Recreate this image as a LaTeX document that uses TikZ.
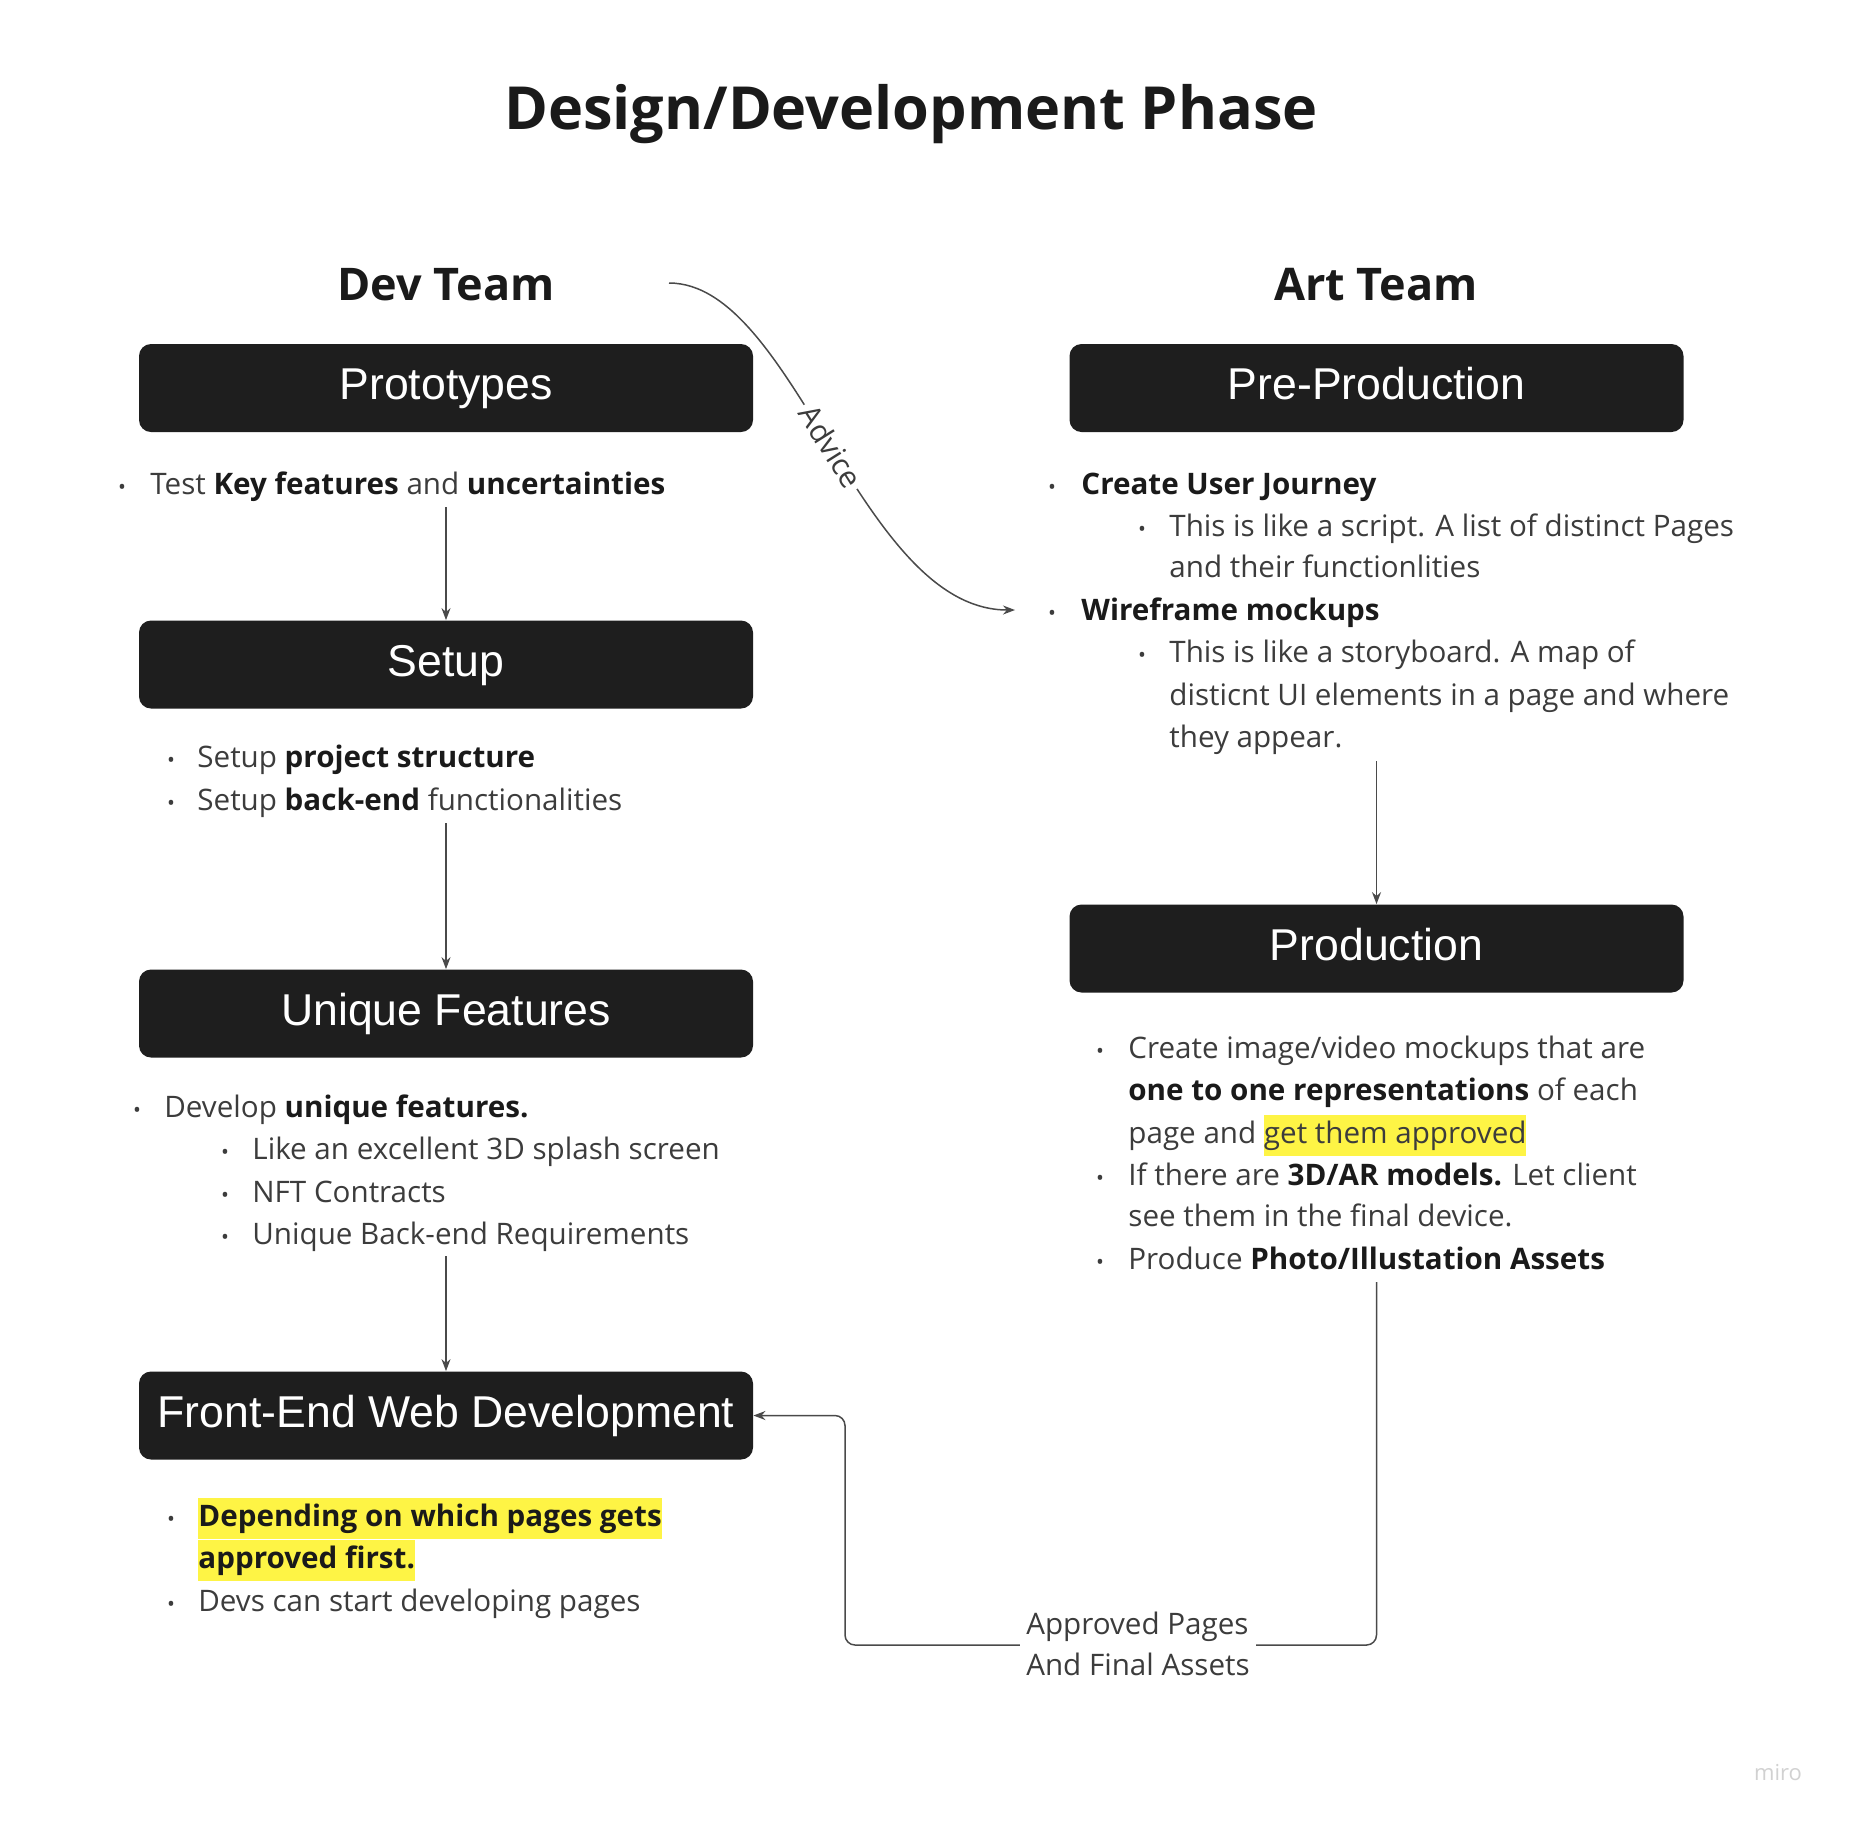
\documentclass[tikz,border=0pt]{standalone}
\usepackage{fontspec}
\setmainfont{Open Sans}
\newfontfamily\boxfont{Liberation Sans}
\usetikzlibrary{arrows.meta}
\definecolor{boxfill}{HTML}{1E1E1E}
\definecolor{bodytext}{HTML}{3C3C3C}
\definecolor{boldtext}{HTML}{1A1A1A}
\definecolor{hlyellow}{HTML}{FEF445}
\definecolor{lineclr}{HTML}{4A4A4A}
\newcommand\bt[1]{\textcolor{boldtext}{\textbf{#1}}}
\newcommand\hlt[1]{{\setlength\fboxsep{0pt}\colorbox{hlyellow}{\strut #1}}}
\begin{document}
\begin{tikzpicture}[x=0.5pt,y=-0.5pt,
 phase/.style={rectangle, rounded corners=6pt, fill=boxfill, minimum width=307pt, minimum height=44pt, text=white, font=\boxfont\fontsize{22.3}{26}\selectfont, inner sep=0pt, text height=16pt, text depth=4.5pt},
 txt/.style={anchor=mid west, inner sep=0pt, font=\fontsize{14.8}{20.5}\selectfont, text=bodytext},
 dot/.style={anchor=mid, inner sep=0pt, font=\fontsize{10.5}{20.5}\selectfont, text=bodytext},
 flow/.style={draw=lineclr, line width=0.75pt, -{Stealth[length=6pt,width=4.5pt]}},
 head/.style={font=\fontsize{22.5}{26}\selectfont\bfseries, text=boldtext, inner sep=0pt},
]
\useasboundingbox (0,0) rectangle (1850,1822);
\fill[white] (0,0) rectangle (1850,1822);

\node[font=\fontsize{29.7}{34}\selectfont\bfseries, text=boldtext, inner sep=0pt] (title) at (911,114) {Design/Development Phase};
\node[head] (dev) at (446,285) {Dev Team};
\node[head] (art) at (1376,285) {Art Team};

\node[phase] (proto) at (446,388) {Prototypes};
\node[phase] (setup) at (446,664.5) {Setup};
\node[phase] (uniq) at (446,1013.5) {Unique Features};
\node[phase] (front) at (446,1415.5) {Front-End Web Development};
\node[phase] (pre) at (1376.5,388) {Pre-Production};
\node[phase] (prod) at (1376.5,948.5) {Production};

% Left column texts
\node[dot] (d1) at (122,489) {•};
\node[txt] (l1) at (150,489) {Test \bt{Key features} and \bt{uncertainties}};
\node[dot] (d2) at (171,762) {•};
\node[txt] (s1) at (197,762) {Setup \bt{project structure}};
\node[dot] (d3) at (171,805) {•};
\node[txt] (s2) at (197,805) {Setup \bt{back-end} functionalities};
\node[dot] (d4) at (137,1112) {•};
\node[txt] (u1) at (164,1112) {Develop \bt{unique features.}};
\node[dot] (d5) at (225,1154) {•};
\node[txt] (u2) at (252,1154) {Like an excellent 3D splash screen};
\node[dot] (d6) at (225,1197) {•};
\node[txt] (u3) at (252,1197) {NFT Contracts};
\node[dot] (d7) at (225,1239) {•};
\node[txt] (u4) at (252,1239) {Unique Back-end Requirements};
\node[dot] (d8) at (171,1521) {•};
\node[txt] (f1) at (198,1521) {\hlt{\bt{Depending on which pages gets}}};
\node[txt] (f2) at (198,1563) {\hlt{\bt{approved first.}}};
\node[dot] (d9) at (171,1606) {•};
\node[txt] (f3) at (198,1606) {Devs can start developing pages};

% Right column texts
\node[dot] (e1) at (1052,489) {•};
\node[txt] (p1) at (1081,489) {\bt{Create User Journey}};
\node[dot] (e2) at (1142,531) {•};
\node[txt] (p2) at (1169,531) {This is like a script. A list of distinct Pages};
\node[txt] (p3) at (1169,572) {and their functionlities};
\node[dot] (e3) at (1052,615) {•};
\node[txt] (p4) at (1081,615) {\bt{Wireframe mockups}};
\node[dot] (e4) at (1142,657) {•};
\node[txt] (p5) at (1169,657) {This is like a storyboard. A map of};
\node[txt] (p6) at (1169,700) {disticnt UI elements in a page and where};
\node[txt] (p7) at (1169,742) {they appear.};

\node[dot] (g1) at (1100,1053) {•};
\node[txt] (r1) at (1128,1053) {Create image/video mockups that are};
\node[txt] (r2) at (1128,1095) {\bt{one to one representations} of each};
\node[txt] (r3) at (1128,1138) {page and \hlt{get them approved}};
\node[dot] (g2) at (1100,1180) {•};
\node[txt] (r4) at (1128,1180) {If there are \bt{3D/AR models.} Let client};
\node[txt] (r5) at (1128,1221) {see them in the final device.};
\node[dot] (g3) at (1100,1264) {•};
\node[txt] (r6) at (1128,1264) {Produce \bt{Photo/Illustation Assets}};

% Connectors
\coordinate (a1) at (446,507);
\coordinate (a2) at (446,823);
\coordinate (a3) at (446,1256);
\coordinate (a4) at (1376.5,761);
\coordinate (a5) at (1376.5,1282);
\coordinate (adv0) at (669,283);
\coordinate (adv1) at (1015,610);

\draw[flow] (a1) -- (setup);
\draw[flow] (a2) -- (uniq);
\draw[flow] (a3) -- (front);
\draw[flow] (a4) -- (prod);
\draw[flow, rounded corners=5pt] (a5) -- (1376.5,1645) -- (845,1645) |- (front.east);
\node[fill=white, inner xsep=3pt, inner ysep=0pt, align=left, font=\fontsize{14.8}{20.5}\selectfont, text=bodytext] (lbl) at (1138,1644) {Approved Pages\\And Final Assets};

\draw[flow] (adv0) .. controls (795,283) and (860,610) .. (adv1)
  node[pos=0.5, sloped, fill=white, inner sep=2pt, font=\fontsize{15}{21}\selectfont, text=bodytext] (advlbl) {Advice};

\node[font=\fontsize{11}{13}\selectfont, text=black!18, inner sep=0pt] (miro) at (1778,1772) {miro};
\end{tikzpicture}
\end{document}
